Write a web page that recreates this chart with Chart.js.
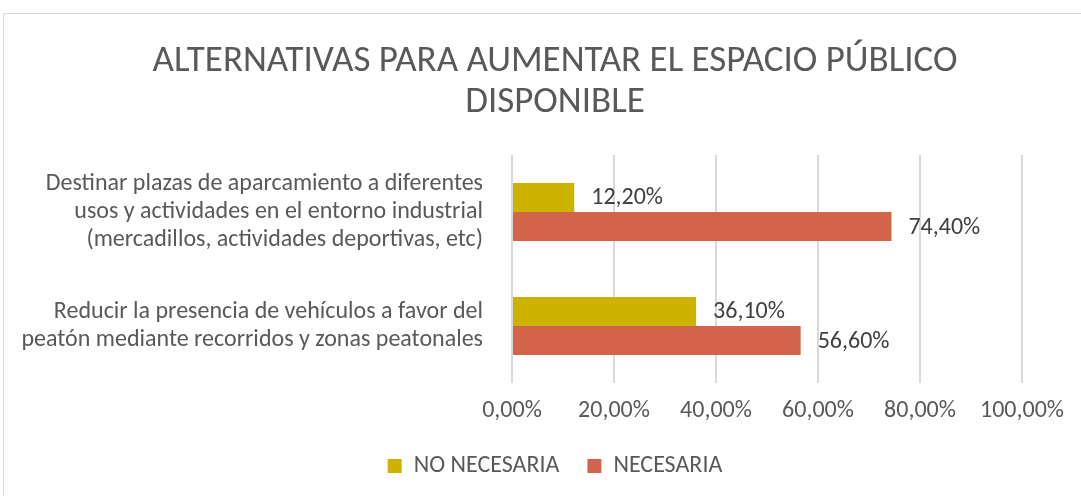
<!DOCTYPE html>
<html>
<head>
<meta charset="utf-8">
<script src="https://cdn.jsdelivr.net/npm/chart.js@4/dist/chart.umd.min.js"></script>
<style>
  html, body { margin: 0; padding: 0; background: #fff; overflow: hidden; width: 1081px; height: 496px; }
  #frame { position: absolute; left: 3px; top: 13px; width: 1102px; height: 500px; border: 1px solid #d9d9d9; }
  #frame canvas { position: absolute; left: 0; top: 0; }
</style>
</head>
<body>
<div id="frame"><canvas id="chart" width="1102" height="474"></canvas></div>
<script>
const FONT = "Carlito, 'Liberation Sans Narrow', 'Open Sans', sans-serif";

const categories = [
  ["Destinar plazas de aparcamiento a diferentes", "usos y actividades en el entorno industrial", "(mercadillos, actividades deportivas, etc)"],
  ["Reducir la presencia de vehículos a favor del", "peatón mediante recorridos y zonas peatonales"]
];
const seriesNames = ["NO NECESARIA", "NECESARIA"];
const noNecesaria = [12.2, 36.1];
const necesaria = [74.4, 56.6];
const xTicks = [0, 20, 40, 60, 80, 100];

function pct(v) {
  return v.toFixed(2).replace(".", ",") + "%";
}

// data labels to the right of each bar
const barLabels = {
  id: "barLabels",
  afterDatasetsDraw(chart) {
    const ctx = chart.ctx;
    ctx.save();
    ctx.font = "24px " + FONT;
    ctx.fillStyle = "#404040";
    ctx.textAlign = "left";
    ctx.textBaseline = "middle";
    chart.data.datasets.forEach((ds, i) => {
      chart.getDatasetMeta(i).data.forEach((bar, j) => {
        ctx.fillText(pct(ds.data[j]), bar.x + 17, bar.y + 1);
      });
    });
    ctx.restore();
  }
};

new Chart(document.getElementById("chart"), {
  type: "bar",
  data: {
    labels: categories,
    datasets: [
      { label: seriesNames[0], data: noNecesaria, backgroundColor: "#cdb300" },
      { label: seriesNames[1], data: necesaria, backgroundColor: "#d2644a" }
    ]
  },
  options: {
    indexAxis: "y",
    responsive: false,
    animation: false,
    layout: { padding: 0 },
    datasets: { bar: { categoryPercentage: 0.51, barPercentage: 1 } },
    plugins: {
      title: {
        display: true,
        text: ["ALTERNATIVAS PARA AUMENTAR EL ESPACIO PÚBLICO", "DISPONIBLE"],
        color: "#595959",
        font: { family: FONT, size: 37, weight: "normal", lineHeight: 41 / 37 },
        padding: { top: 27.5, bottom: 31.5 }
      },
      legend: {
        position: "bottom",
        labels: {
          color: "#595959",
          font: { family: FONT, size: 24 },
          boxWidth: 14,
          boxHeight: 14,
          padding: 28
        }
      },
      tooltip: { enabled: false }
    },
    scales: {
      x: {
        min: 0,
        max: 100,
        afterBuildTicks: s => { s.ticks = xTicks.map(v => ({ value: v })); },
        afterFit: s => { s.height = 43; },
        ticks: { color: "#595959", font: { family: FONT, size: 24 }, padding: 14, callback: v => pct(v) },
        grid: { color: "#d9d9d9", lineWidth: 2, drawTicks: false },
        border: { display: false }
      },
      y: {
        afterFit: s => { s.width = 508; },
        ticks: { color: "#595959", font: { family: FONT, size: 24, lineHeight: 28 / 24 }, padding: 21 },
        grid: { display: false },
        border: { display: false }
      },
      // empty right-hand axis, keeps the plot narrower than the centred title and legend
      yRight: {
        type: "category",
        position: "right",
        afterFit: s => { s.width = 84; },
        ticks: { display: false },
        grid: { display: false },
        border: { display: false }
      }
    }
  },
  plugins: [barLabels]
});
</script>
</body>
</html>
